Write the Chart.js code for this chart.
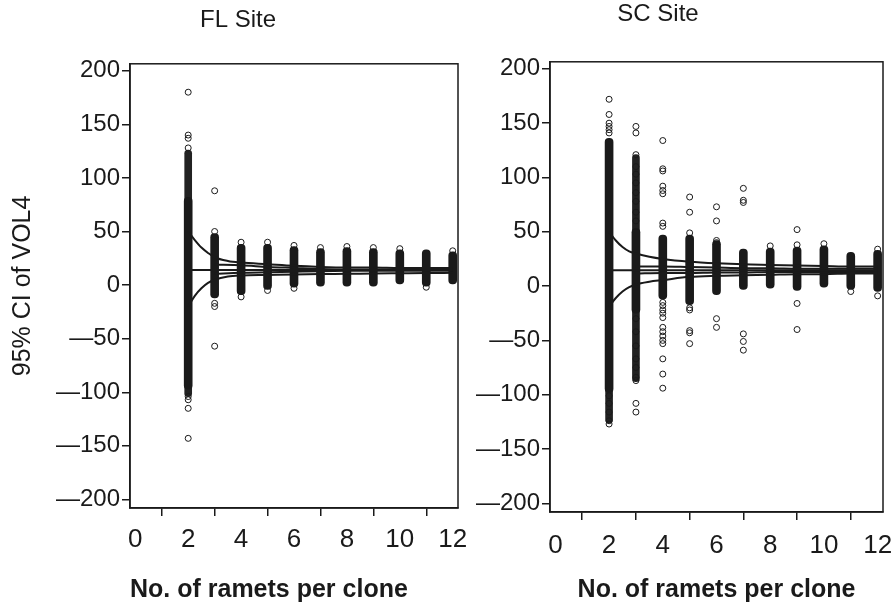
<!DOCTYPE html>
<html><head><meta charset="utf-8">
<script src="https://cdn.jsdelivr.net/npm/chart.js@4/dist/chart.umd.min.js"></script>
<style>
html,body{margin:0;padding:0;background:#fff;}
#wrap{position:relative;width:891px;height:605px;overflow:hidden;background:#fff;}
canvas{position:absolute;top:0;}
#c1{left:0;} #c2{left:410px;}
</style></head><body>
<div id="wrap"><canvas id="c1" width="470" height="605"></canvas><canvas id="c2" width="481" height="605"></canvas></div>
<script>
// ---------- data ----------
const panelTitles = ['FL Site', 'SC Site'];
const xTitle = 'No. of ramets per clone';
const yTitle = '95% CI of VOL4';
const xTicks = [0, 2, 4, 6, 8, 10, 12];
const yTicks = [-200, -150, -100, -50, 0, 50, 100, 150, 200];

const columnX = [2, 3, 4, 5, 6, 7, 8, 9, 10, 11, 12];

// FL site: solid range of overlapping points per column
const flColumnLow  = [-97, -12, -9, -4, -2, -1, -1, -1, 1, -1, 1];
const flColumnHigh = [82, 48, 38, 38, 36, 34, 35, 34, 33, 33, 31];
// FL site: looser (speckled) runs of points above / below the solid range
const flSpeckUpLow   = [76, null, null, null, null, null, null, null, null, null, null];
const flSpeckUpHigh  = [126, null, null, null, null, null, null, null, null, null, null];
const flSpeckDnLow   = [-104, null, null, null, null, null, null, null, null, null, null];
const flSpeckDnHigh  = [-92, null, null, null, null, null, null, null, null, null, null];
// FL site: separate points per column (same order as columnX)
const flOutliers = [
  [128, 137, 140, 180, -104, -107, -115, -143],
  [88, 50, -17, -20, -57],
  [40, -11],
  [40, -5],
  [37, -3],
  [35],
  [36],
  [35],
  [34],
  [-2],
  [32]
];

// SC site
const scColumnLow  = [-98, -25, -12, -17, -8, -3, -2, -4, -1, -3, -5];
const scColumnHigh = [136, 53, 47, 47, 42, 34, 35, 36, 37, 31, 33];
const scSpeckUpLow   = [null, 47, null, null, null, null, null, null, null, null, null];
const scSpeckUpHigh  = [null, 121, null, null, null, null, null, null, null, null, null];
const scSpeckDnLow   = [-126, -88, null, null, null, null, null, null, null, null, null];
const scSpeckDnHigh  = [-93, -19, null, null, null, null, null, null, null, null, null];
const scOutliers = [
  [172, 158, 150, 147, 144, 141, -101, -108, -116, -124, -127],
  [147, 141, 121, 110, 103, 95, 86, 78, 68, 60, -30, -42, -55, -67, -75, -84, -87, -108, -116],
  [134, 108, 106, 92, 88, 85, 58, 55, -15, -18, -22, -25, -29, -38, -42, -46, -50, -53, -67, -81, -94],
  [82, 68, 49, -20, -22, -41, -43, -53],
  [73, 60, 42, 40, -30, -38],
  [90, 79, 77, -44, -51, -59],
  [37],
  [52, 38, -16, -40],
  [39],
  [-5],
  [34, -9]
];

// CI curves
const curveX   = [2, 2.25, 2.5, 2.75, 3, 3.5, 4, 5, 6, 7, 8, 9, 10, 11, 12];
const innerX   = [3, 4, 5, 6, 7, 8, 9, 10, 11, 12];
const meanX    = [2, 12];

const flMean    = [14, 14];
const flOuterUp = [50, 42, 35, 30, 26, 22.5, 21, 19.5, 18, 17, 16.5, 16.5, 16, 16, 16];
const flOuterLo = [-20, -10, -3, 2, 5, 8, 9, 9.5, 10, 10.3, 10.5, 10.8, 11, 11.2, 11.5];
const flInnerUp = [19, 18.5, 17, 16, 15, 14.5, 14.5, 14.5, 14.5, 14.5];
const flInnerLo = [10.5, 11.5, 12, 12.5, 13, 13.3, 13.5, 13.5, 13.5, 13.5];

const scMean    = [14.5, 14.5];
const scOuterUp = [50, 42, 36, 32, 30, 27, 25, 22.5, 21, 20, 19.5, 19, 18.5, 18, 18];
const scOuterLo = [-19, -11, -5, -1, 1.5, 4, 5.5, 8.5, 9.5, 10, 10.5, 11, 11, 11.5, 11.5];
const scInnerUp = [18, 18, 17.5, 17, 16.5, 16.5, 16, 16, 16, 16];
const scInnerLo = [11.5, 12, 12, 12.5, 12.5, 13, 13, 13, 13, 13];

// ---------- building ----------
const INK = '#1a1a1a';
const FONT = "'Liberation Sans', Arial, Helvetica, sans-serif";

function pts(xs, ys) { return xs.map((x, i) => ({x: x, y: ys[i]})); }
function rangePts(lo, hi) {
  const r = [];
  columnX.forEach((x, i) => { if (lo[i] !== null) r.push({x: x, y: [lo[i], hi[i]]}); });
  return r;
}
function outlierPts(outs) {
  const r = [];
  outs.forEach((col, i) => col.forEach(v => r.push({x: columnX[i], y: v})));
  return r;
}
function lineDs(xs, ys) {
  return {type: 'line', data: pts(xs, ys), borderColor: INK, borderWidth: 2,
          pointRadius: 0, fill: false, cubicInterpolationMode: 'monotone', order: 1};
}
function barDs(lo, hi, color, w, ord) {
  return {type: 'bar', data: rangePts(lo, hi), backgroundColor: color, borderWidth: 0,
          borderSkipped: false, borderRadius: 4, barThickness: w, grouped: false, order: ord};
}

const framePlugin = {
  id: 'frame',
  afterDraw(chart) {
    const a = chart.chartArea, c = chart.ctx;
    c.save(); c.strokeStyle = INK; c.lineWidth = 1.5;
    c.strokeRect(a.left, a.top, a.right - a.left, a.bottom - a.top);
    c.restore();
  }
};

function makeChart(id, cfg) {
  const datasets = [
    barDs(cfg.low, cfg.high, INK, 8, 4),
    barDs(cfg.upLow, cfg.upHigh, '#222222', 7, 5),
    barDs(cfg.dnLow, cfg.dnHigh, '#222222', 7, 5),
    {type: 'scatter', data: outlierPts(cfg.outs), pointStyle: 'circle', pointRadius: 3,
     borderColor: INK, borderWidth: 1, backgroundColor: 'rgba(255,255,255,0)', order: 2},
    lineDs(meanX, cfg.mean),
    lineDs(curveX, cfg.outerUp),
    lineDs(curveX, cfg.outerLo),
    lineDs(innerX, cfg.innerUp),
    lineDs(innerX, cfg.innerLo)
  ];
  return new Chart(document.getElementById(id), {
    type: 'bar',
    data: {datasets: datasets},
    plugins: [framePlugin],
    options: {
      responsive: false, animation: false, devicePixelRatio: 1,
      layout: {padding: {left: cfg.padLeft, right: cfg.padRight, top: 0, bottom: 0}},
      plugins: {
        legend: {display: false}, tooltip: {enabled: false},
        title: {display: true, text: cfg.title, color: INK,
                font: {family: FONT, size: 24, weight: 'normal'},
                padding: cfg.titlePad}
      },
      scales: {
        x: {
          type: 'linear', min: -0.2, max: 12.2, offset: false,
          afterBuildTicks: s => { s.ticks = xTicks.map(v => ({value: v})); },
          ticks: {color: INK, font: {family: FONT, size: 26}, padding: cfg.xTickPad, includeBounds: false, maxRotation: 0},
          grid: {drawOnChartArea: false, drawTicks: true, tickLength: 8, color: INK, lineWidth: 1.5},
          border: {display: true, color: INK, width: 1.5},
          title: {display: true, text: xTitle, color: INK, align: cfg.xAlign,
                  font: {family: FONT, size: 25, weight: 'bold'}, padding: {top: 0, bottom: 0}},
          afterFit: s => { s.height = cfg.xHeight; s.paddingLeft = 0; s.paddingRight = 0; }
        },
        y: {
          type: 'linear', min: cfg.yMin, max: cfg.yMax,
          afterBuildTicks: s => { s.ticks = yTicks.map(v => ({value: v})); },
          ticks: {color: INK, font: {family: FONT, size: 24}, padding: 2,
                  callback: v => v < 0 ? '\u2014' + Math.abs(v) : String(v)},
          grid: {drawOnChartArea: false, drawTicks: true, tickLength: 8, color: INK, lineWidth: 1.5},
          border: {display: true, color: INK, width: 1.5},
          title: {display: cfg.showY, text: yTitle, color: INK,
                  font: {family: FONT, size: 25, weight: 'normal'}, padding: {top: cfg.yTitlePad, bottom: 0}},
          afterFit: s => { s.width = cfg.yWidth; s.paddingTop = 0; s.paddingBottom = 0; }
        }
      }
    }
  });
}

makeChart('c1', {
  title: panelTitles[0], low: flColumnLow, high: flColumnHigh,
  upLow: flSpeckUpLow, upHigh: flSpeckUpHigh, dnLow: flSpeckDnLow, dnHigh: flSpeckDnHigh, outs: flOutliers,
  mean: flMean, outerUp: flOuterUp, outerLo: flOuterLo, innerUp: flInnerUp, innerLo: flInnerLo,
  padLeft: 18, padRight: 12, titlePad: {top: 6, bottom: 29}, xHeight: 97, yWidth: 112, yTitlePad: -10,
  yMin: -208, yMax: 206.5, showY: true, xAlign: 'start', xTickPad: 8
});
makeChart('c2', {
  title: panelTitles[1], low: scColumnLow, high: scColumnHigh,
  upLow: scSpeckUpLow, upHigh: scSpeckUpHigh, dnLow: scSpeckDnLow, dnHigh: scSpeckDnHigh, outs: scOutliers,
  mean: scMean, outerUp: scOuterUp, outerLo: scOuterLo, innerUp: scInnerUp, innerLo: scInnerLo,
  padLeft: 23, padRight: 8, titlePad: {top: 0, bottom: 33}, xHeight: 93, yWidth: 117, yTitlePad: 0,
  yMin: -208, yMax: 206.5, showY: false, xAlign: 'center', xTickPad: 10
});
</script>
</body></html>
